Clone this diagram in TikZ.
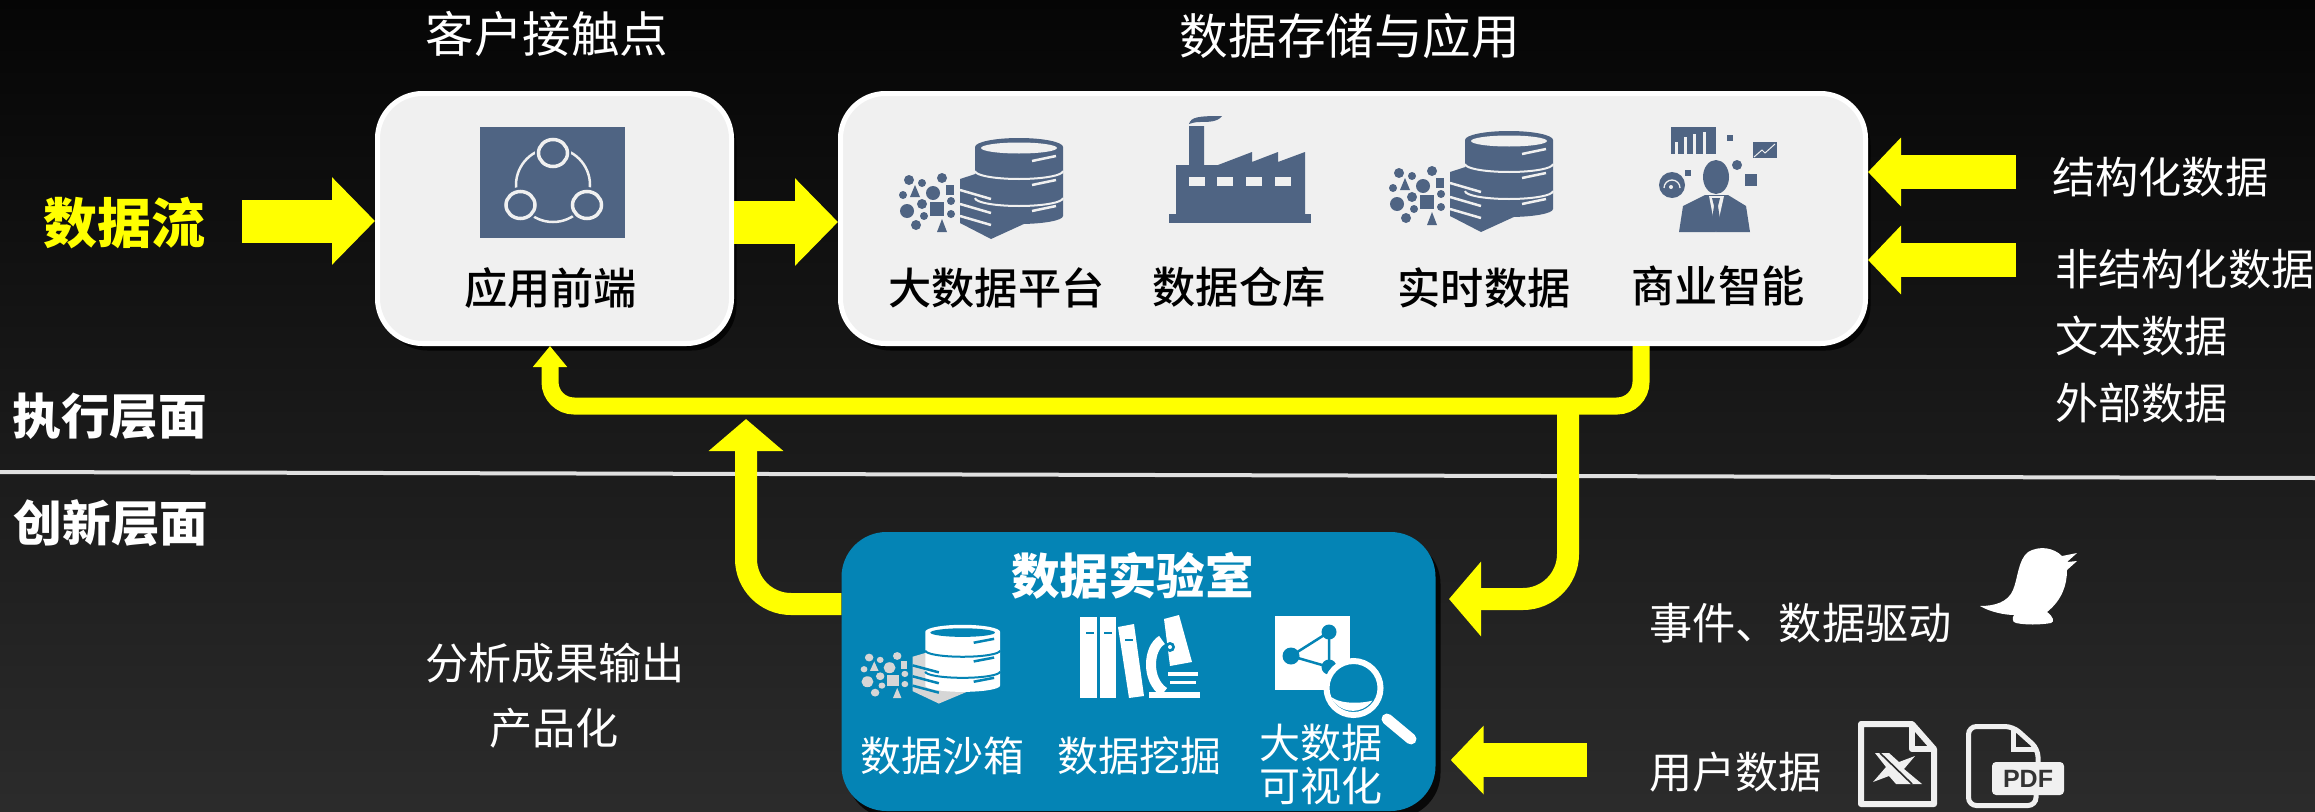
\documentclass[tikz,border=0pt]{standalone}
\usepackage{fontspec}
\setmainfont{Noto Sans CJK SC}
\newfontfamily\mediumfont{Noto Sans CJK SC Medium}
\newfontfamily\pdffont{Liberation Sans}
\usetikzlibrary{arrows.meta,shadows}
\definecolor{iconblue}{HTML}{4F6483}
\definecolor{panelgrey}{HTML}{F0F0F0}
\definecolor{labblue}{HTML}{0484B5}
\definecolor{flowyellow}{HTML}{FFFF00}
\definecolor{labgrey}{HTML}{D6D6D6}
\tikzset{
	whitetxt/.style={text=white,inner sep=0pt,font=\fontsize{43.2}{48}\selectfont},
	headtxt/.style={text=white,inner sep=0pt,font=\fontsize{48.6}{54}\selectfont},
	darktxt/.style={text=black,inner sep=0pt,font=\mediumfont\fontsize{43.2}{48}\selectfont},
	boldtxt/.style={text=white,inner sep=0pt,font=\bfseries\fontsize{48.6}{54}\selectfont},
	labtxt/.style={text=white,inner sep=0pt,align=center,font=\fontsize{41}{43}\selectfont},
	panel/.style={fill=panelgrey,draw=white,line width=5pt,rounded corners=45pt,
		drop shadow={shadow xshift=5pt,shadow yshift=-7pt,fill=black,opacity=.8}},
	feedback/.style={draw=flowyellow,line width=17pt,rounded corners=24pt,-{Triangle[width=33pt,length=21pt]}},
	labflow/.style={draw=flowyellow,line width=22pt,rounded corners=45pt,-{Triangle[width=73pt,length=32pt]}},
	bigflow/.style={draw=flowyellow,line width=43pt,-{Triangle[width=85pt,length=43pt]}},
	sideflow/.style={draw=flowyellow,line width=34pt,-{Triangle[width=67pt,length=33pt]}},
	pics/dbstack/.style n args={3}{code={
		\foreach \px/\py/\pr in {-71/-7/5,-58/-4/4,-38/-9/5,-47/6/7,-77/8/4,-58/17/5,-73/24/7,-29/14/4,-56/29/4,-29/27/4,-64/38/5}
			\fill[#2] (\px,\py) circle[radius=\pr pt];
		\fill[#2] (-34,-2) rectangle (-26,8);
		\fill[#2] (-50,15) rectangle (-36,29);
		\fill[#2] (-65,-2) -- (-60,10) -- (-70,10) -- cycle;
		\fill[#2] (-38,32) -- (-33,45) -- (-43,45) -- cycle;
		\fill[#2] (-20,-8) -- (11,-18) -- (46,-8) -- (46,36) -- (11,52) -- (-20,36) -- cycle;
		\fill[#1] (-5,-40) -- (-5,29) arc[x radius=44pt,y radius=8pt,start angle=180,end angle=360]
			-- (83,-40) arc[x radius=44pt,y radius=9pt,start angle=0,end angle=180] -- cycle;
		\fill[#3] (39,-39) circle[x radius=38pt,y radius=5.5pt];
		\draw[#3,line width=2pt] (-5,-16) arc[x radius=44pt,y radius=8pt,start angle=180,end angle=360];
		\draw[#3,line width=2pt] (-5,11) arc[x radius=44pt,y radius=8pt,start angle=180,end angle=360];
		\foreach \py in {-26,-2,24}
			\draw[#3,line width=2.5pt] (52,\py) -- (76,\py-5);
		\foreach \py in {3,17,29}
			\draw[#3,line width=2.5pt] (-20,\py) -- (11,\py+9);
	}},
}
\begin{document}
\begin{tikzpicture}[x=1pt,y=-1pt]
	\useasboundingbox (0,0) rectangle (2315,811);
	\shade[top color=black!98!white,bottom color=black!83!white] (0,0) rectangle (2315,811);
	\coordinate (divleft) at (0,472);
	\coordinate (divright) at (2315,478);
	\draw[white!88!black,line width=4pt] (divleft) -- (divright);

	\node [panel,minimum width=354pt,minimum height=250pt] (frontend) at (554.5,218.5) {};
	\node [panel,minimum width=1025pt,minimum height=250pt] (datastore) at (1353,218.5) {};
	\node [fill=labblue,rounded corners=45pt,minimum width=594pt,minimum height=279pt,inner sep=0pt,
		drop shadow={shadow xshift=5pt,shadow yshift=-7pt,fill=black,opacity=.8}] (lab) at (1138.5,671.5) {};

	\node [headtxt] (touchtitle) at (547,34) {客户接触点};
	\node [headtxt] (storetitle) at (1350,36) {数据存储与应用};
	\node [boldtxt,text=flowyellow,font=\bfseries\fontsize{54}{60}\selectfont] (flowtitle) at (124,223) {数据流};
	\node [boldtxt] (execlayer) at (110,416) {执行层面};
	\node [boldtxt] (innolayer) at (111,523) {创新层面};

	\node [darktxt] (frontendtxt) at (550.5,288) {应用前端};
	\node [darktxt] (bigdatatxt) at (996.5,288) {大数据平台};
	\node [darktxt] (warehousetxt) at (1239,287) {数据仓库};
	\node [darktxt] (realtimetxt) at (1484,288) {实时数据};
	\node [darktxt] (bitxt) at (1718,286) {商业智能};

	\node [whitetxt,anchor=west] (structtxt) at (2052,177) {结构化数据};
	\node [whitetxt,anchor=west] (unstructtxt) at (2055,269) {非结构化数据};
	\node [whitetxt,anchor=west] (texttxt) at (2055,336) {文本数据};
	\node [whitetxt,anchor=west] (externtxt) at (2055,403) {外部数据};
	\node [whitetxt] (resulttxt) at (555,663) {分析成果输出};
	\node [whitetxt] (producttxt) at (554,728) {产品化};
	\node [whitetxt,anchor=west] (eventtxt) at (1649,623) {事件、数据驱动};
	\node [whitetxt,anchor=west] (usertxt) at (1649,772) {用户数据};

	\node [boldtxt] (labtitle) at (1132.5,576) {数据实验室};
	\node [labtxt] (sandboxtxt) at (942,756) {数据沙箱};
	\node [labtxt] (miningtxt) at (1139.5,756) {数据挖掘};
	\node [labtxt] (visualtxt) at (1320.5,764) {大数据\\可视化};

	\fill[iconblue] (480,127) rectangle (625,238);
	\draw[panelgrey,line width=2.5pt] (553,185) circle[radius=37pt];
	\foreach \cx/\cy in {553/153,520.5/205,587/205} {
		\fill[iconblue] (\cx,\cy) circle[radius=18pt];
		\draw[panelgrey,line width=3.5pt] (\cx,\cy) circle[x radius=14.5pt,y radius=13.5pt];
	}

	\pic at (980,187) {dbstack={iconblue}{iconblue}{panelgrey}};
	\pic at (1470,180) {dbstack={iconblue}{iconblue}{panelgrey}};
	\pic[xscale=.85,yscale=.78] at (929.5,663) {dbstack={white}{labgrey}{labblue}};

	\fill[iconblue] (1169,214) rectangle (1311,223);
	\fill[iconblue] (1176,214) -- (1176,165) -- (1189,165) -- (1189,126) -- (1204,126) -- (1204,165) -- (1218,165)
		-- (1252,152) -- (1252,162) -- (1278,152) -- (1278,162) -- (1305,152) -- (1305,214) -- cycle;
	\fill[iconblue] (1189,124) .. controls (1191,117) and (1198,116) .. (1222,116) .. controls (1218,122) and (1208,122) .. (1200,122) .. controls (1195,122) and (1192,123) .. (1189,124) -- cycle;
	\foreach \wx in {1189,1217,1246,1275}
		\fill[panelgrey] (\wx,177) rectangle (\wx+16,186);

	\fill[iconblue] (1671,127) rectangle (1716,154);
	\foreach \bx/\by in {1675/142,1684/137,1693/134,1703/132}
		\fill[panelgrey] (\bx,\by) rectangle (\bx+2.5,154);
	\fill[iconblue] (1727,135) rectangle (1733,141);
	\fill[iconblue] (1753,142) rectangle (1777,158);
	\draw[panelgrey,line width=1pt] (1754,157) -- (1762,150) -- (1765,153) -- (1775,144);
	\fill[iconblue] (1716,177) circle[x radius=13pt,y radius=17pt];
	\fill[iconblue] (1737,165) circle[radius=5pt];
	\fill[iconblue] (1745,174) rectangle (1757,186);
	\fill[iconblue] (1685,170) rectangle (1691,176);
	\fill[iconblue] (1672,185) circle[radius=13pt];
	\draw[panelgrey,line width=1.3pt] (1664,188) arc[radius=8pt,start angle=180,end angle=0];
	\fill[panelgrey] (1671,187) circle[radius=2pt];
	\fill[iconblue] (1679,232) -- (1683,206) -- (1705,195) -- (1728,195) -- (1746,206) -- (1750,232) -- cycle;
	\fill[panelgrey] (1709,196) -- (1716,232) -- (1724,196) -- cycle;
	\fill[iconblue] (1712,198) -- (1720,198) -- (1718,206) -- (1721,226) -- (1716,232) -- (1711,226) -- (1714,206) -- cycle;

	\fill[white] (1080,617) rectangle (1097,698);
	\fill[white] (1100,617) rectangle (1116,698);
	\fill[white] (1118,627) -- (1134,624) -- (1144,696) -- (1129,698) -- cycle;
	\foreach \dx/\dy in {1086/633,1104/633,1125/640}
		\draw[labblue,line width=1.8pt] (\dx,\dy) -- (\dx+8,\dy);
	\fill[white] (1164,619) -- (1179,615) -- (1192,662) -- (1170,666) -- cycle;
	\fill[labblue] (1170,647) circle[radius=5pt];
	\fill[white] (1170,647) circle[radius=2pt];
	\draw[white,line width=10pt] (1162,640) .. controls (1148,648) and (1146,680) .. (1164,692);
	\fill[white] (1149,692) rectangle (1200,698);
	\fill[white] (1168,672) rectangle (1198,675.5);
	\fill[white] (1170,681) rectangle (1196,684);

	\fill[white] (1275,616) rectangle (1350,690);
	\draw[labblue,line width=2.5pt] (1329,632) -- (1291,656) -- (1329,667) -- cycle;
	\foreach \nx/\ny/\nr in {1329/632/7.5,1291/656/8.5,1329/667/7.5}
		\fill[labblue] (\nx,\ny) circle[radius=\nr pt];
	\draw[white,line width=11pt,line cap=round] (1387,719) -- (1411,739);
	\draw[white,fill=labblue,line width=6pt] (1353.5,688) circle[radius=27pt];
	\fill[white] (1331,697) arc[radius=24pt,start angle=205,end angle=325] .. controls (1364,703) and (1342,705) .. (1331,697) -- cycle;

	\fill[white] (1980,606) .. controls (1995,606) and (2008,602) .. (2013,590) .. controls (2018,578) and (2018,560) .. (2028,552)
		.. controls (2040,545) and (2054,548) .. (2062,556) -- (2077,553) -- (2067,562) -- (2077,561) -- (2067,570)
		.. controls (2067,585) and (2062,600) .. (2047,612) .. controls (2053,616) and (2055,622) .. (2051,623)
		.. controls (2040,625) and (2025,625) .. (2016,623) .. controls (2012,622) and (2012,618) .. (2014,615)
		.. controls (2005,615) and (1990,612) .. (1980,606) -- cycle;

	\draw[panelgrey,line width=6pt,line join=round] (1861,724) -- (1912,724) -- (1934,749) -- (1934,804) -- (1861,804) -- cycle;
	\draw[panelgrey,line width=6pt,line join=round] (1912,724) -- (1912,749) -- (1934,749);
	\fill[panelgrey] (1875,753) -- (1889,753) -- (1899,762) -- (1915,756) -- (1904,769) -- (1922,784) -- (1896,784) -- (1889,776) -- (1873,782) -- (1886,767) -- cycle;
	\draw[black!83!white,line width=1.6pt] (1880,753) -- (1912,784);

	\draw[panelgrey,line width=5pt,rounded corners=8pt] (2038,762) -- (2038,749) -- (2013,726.5) -- (1968.5,726.5) -- (1968.5,805.5) -- (2036,805.5) -- (2036,795);
	\draw[panelgrey,line width=5pt] (2013,726.5) -- (2013,749) -- (2038,749);
	\node [fill=panelgrey,rounded corners=4pt,minimum width=72pt,minimum height=33pt,inner sep=0pt,text=black!80!white,font=\pdffont\bfseries\fontsize{25}{28}\selectfont] (pdfbadge) at (2028,778.5) {PDF};

	\coordinate (flowin) at (242,221);
	\coordinate (midflow) at (1000,222);
	\coordinate (structin) at (2016,172);
	\coordinate (unstructin) at (2016,260);
	\coordinate (userin) at (1587,760);
	\coordinate (labtip) at (1449,599);
	\coordinate (fbright) at (1641,406);
	\coordinate (fbleft) at (550,406);
	\coordinate (fbbranch) at (1568,406);
	\coordinate (labout) at (746,604);
	\coordinate (labup) at (746,419);

	\draw[bigflow] (flowin) -- (flowin -| frontend.west);
	\draw[bigflow] (frontend.east |- midflow) -- (datastore.west |- midflow);
	\draw[sideflow] (structin) -- (structin -| datastore.east);
	\draw[sideflow] (unstructin) -- (unstructin -| datastore.east);
	\draw[sideflow] (userin) -- ([xshift=15pt]userin -| lab.east);
	\draw[labflow] (fbbranch) -- (fbbranch |- labtip) -- (labtip);
	\draw[labflow] (lab.west |- labout) -- (labout) -- (labup);
	\draw[feedback] (fbright |- datastore.south) -- (fbright) -- (fbleft) -- (fbleft |- frontend.south);
\end{tikzpicture}
\end{document}
